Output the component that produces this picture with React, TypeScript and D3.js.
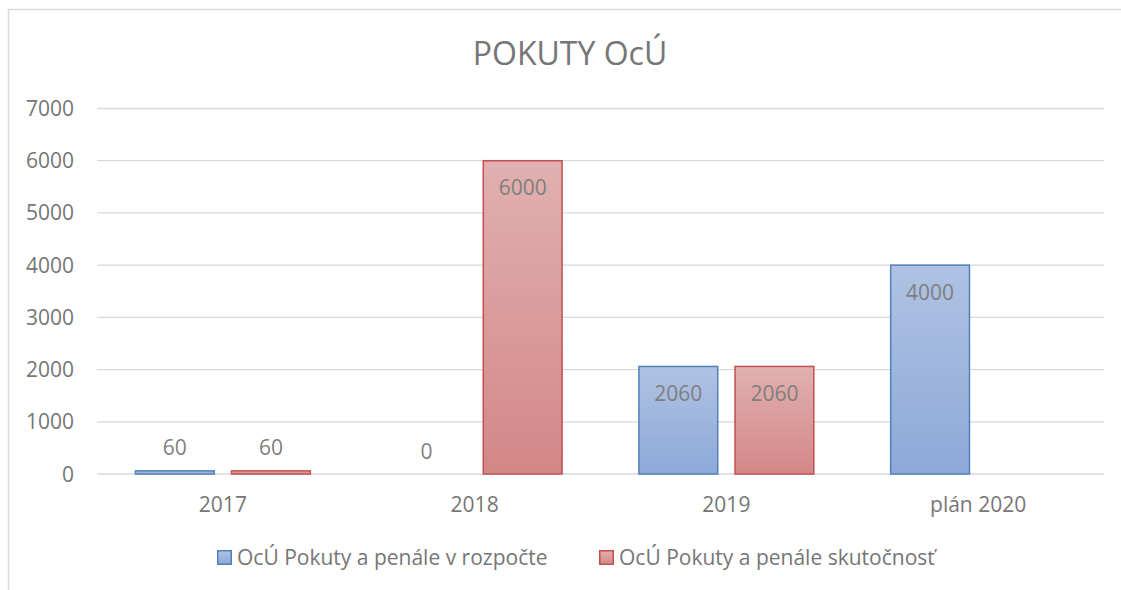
import { useEffect, useRef } from "react";
import * as d3 from "d3";

// chart data
const categories = ["2017", "2018", "2019", "plán 2020"];
const budgetValues: (number | null)[] = [60, 0, 2060, 4000];
const actualValues: (number | null)[] = [60, 6000, 2060, null];
const yTicks = [0, 1000, 2000, 3000, 4000, 5000, 6000, 7000];
const seriesNames = ["OcÚ Pokuty a penále v rozpočte", "OcÚ Pokuty a penále skutočnosť"];

const W = 1121;
const H = 590;
const FONT = "'Open Sans', 'Liberation Sans', sans-serif";
const TEXT = "#767676";

const series = [
  { key: "budget", name: seriesNames[0], values: budgetValues, stroke: "#4f81bd", top: "#afc2e2", bottom: "#8da9d9" },
  { key: "actual", name: seriesNames[1], values: actualValues, stroke: "#c0504d", top: "#e1b0b0", bottom: "#d38787" },
];

const App = () => {
  const svgRef = useRef<SVGSVGElement>(null);

  useEffect(() => {
    const svg = d3.select(svgRef.current);
    svg.selectAll("*").remove();

    const margin = { top: 108.5, right: 1104, bottom: 474, left: 97 };

    const x0 = d3.scaleBand().domain(categories).range([margin.left, margin.right]).padding(0);
    const x1 = d3.scaleBand()
      .domain(series.map(s => s.key))
      .range([0, x0.bandwidth()])
      .paddingInner(0.18)
      .paddingOuter(0.4);
    const y = d3.scaleLinear().domain([0, 7000]).range([margin.bottom, margin.top]);

    // gradients
    const defs = svg.append("defs");
    series.forEach(s => {
      const g = defs.append("linearGradient")
        .attr("id", `grad-${s.key}`)
        .attr("x1", 0).attr("y1", 0).attr("x2", 0).attr("y2", 1);
      g.append("stop").attr("offset", "0%").attr("stop-color", s.top);
      g.append("stop").attr("offset", "100%").attr("stop-color", s.bottom);
    });

    // chart frame
    svg.append("rect")
      .attr("x", 8.5).attr("y", 9.5)
      .attr("width", 1300).attr("height", 800)
      .attr("fill", "#ffffff")
      .attr("stroke", "#d9d9d9")
      .attr("stroke-width", 1.5);

    // title
    svg.append("text")
      .attr("x", 570).attr("y", 65)
      .attr("text-anchor", "middle")
      .attr("font-family", FONT)
      .attr("font-size", 32)
      .attr("fill", TEXT)
      .text("POKUTY OcÚ");

    // gridlines
    svg.append("g")
      .selectAll("line")
      .data(yTicks)
      .join("line")
      .attr("x1", margin.left).attr("x2", margin.right)
      .attr("y1", d => y(d)).attr("y2", d => y(d))
      .attr("stroke", "#d9d9d9")
      .attr("stroke-width", 1.3);

    // y labels
    svg.append("g")
      .selectAll("text")
      .data(yTicks)
      .join("text")
      .attr("x", 74)
      .attr("y", d => y(d) + 7.5)
      .attr("text-anchor", "end")
      .attr("font-family", FONT)
      .attr("font-size", 21)
      .attr("fill", TEXT)
      .text(d => String(d));

    // x labels
    svg.append("g")
      .selectAll("text")
      .data(categories)
      .join("text")
      .attr("x", d => (x0(d) ?? 0) + x0.bandwidth() / 2)
      .attr("y", 511.5)
      .attr("text-anchor", "middle")
      .attr("font-family", FONT)
      .attr("font-size", 21)
      .attr("fill", TEXT)
      .text(d => d);

    // bars
    series.forEach(s => {
      const pts = categories.map((c, i) => ({ c, v: s.values[i] }));
      const g = svg.append("g");
      g.selectAll("rect")
        .data(pts.filter(p => p.v != null && p.v > 0))
        .join("rect")
        .attr("x", p => (x0(p.c) ?? 0) + (x1(s.key) ?? 0))
        .attr("y", p => y(p.v as number))
        .attr("width", x1.bandwidth())
        .attr("height", p => y(0) - y(p.v as number))
        .attr("fill", `url(#grad-${s.key})`)
        .attr("stroke", s.stroke)
        .attr("stroke-width", 1.5);

      // data labels
      g.selectAll("text")
        .data(pts.filter(p => p.v != null))
        .join("text")
        .attr("x", p => (x0(p.c) ?? 0) + (x1(s.key) ?? 0) + x1.bandwidth() / 2)
        .attr("y", p => {
          const top = y(p.v as number);
          return y(0) - top > 45 ? top + 27 + 7.5 : top - 23 + 7.5;
        })
        .attr("text-anchor", "middle")
        .attr("font-family", FONT)
        .attr("font-size", 21)
        .attr("fill", "#7f7f7f")
        .text(p => String(p.v));
    });

    // legend
    const legendX = [217, 599];
    const lg = svg.append("g");
    series.forEach((s, i) => {
      lg.append("rect")
        .attr("x", legendX[i] + 0.75).attr("y", 550.75)
        .attr("width", 13.5).attr("height", 13.5)
        .attr("fill", `url(#grad-${s.key})`)
        .attr("stroke", s.stroke)
        .attr("stroke-width", 1.5);
      lg.append("text")
        .attr("x", legendX[i] + 20).attr("y", 565)
        .attr("font-family", FONT)
        .attr("font-size", 21)
        .attr("fill", TEXT)
        .text(s.name);
    });
  }, []);

  return (
    <svg
      ref={svgRef}
      width={W}
      height={H}
      style={{ position: "absolute", left: 0, top: 0, background: "#ffffff" }}
    ></svg>
  );
};

export default App;
